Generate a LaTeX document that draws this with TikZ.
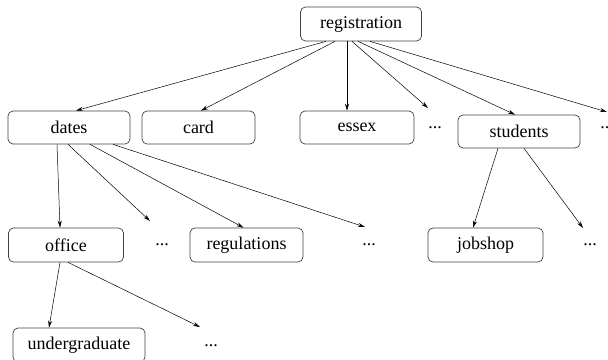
\documentclass[tikz,border=0pt]{standalone}
\usepackage{fontspec}
\setmainfont{Liberation Serif}
\usetikzlibrary{arrows.meta,positioning}

\tikzset{
  term/.style={draw=black!75,line width=0.7pt,rounded corners=5pt,minimum height=34pt,inner sep=0pt},
  more/.style={inner sep=0pt},
  link/.style={-{Stealth[length=7pt,width=4pt]},line width=0.5pt}
}

\begin{document}
\begin{tikzpicture}[x=1pt,y=-1pt,font=\fontsize{18}{20}\selectfont]
\useasboundingbox (0,0) rectangle (608,359);

% top of the tree
\node[term,minimum width=121pt] (registration) at (361,24) {registration};

% second level
\node[term,minimum width=122pt,minimum height=33pt] (dates) at (69,127.5) {dates};
\node[term,minimum width=113pt,minimum height=33pt] (card) at (198.5,127.5) {card};
\node[term,minimum width=114pt,minimum height=33pt] (essex) at (357,127.5) {essex};
\node[more] (moreA) at (435,128) {...};
\node[term,minimum width=122pt,minimum height=33pt] (students) at (519,131.5) {students};
\node[more] (moreB) at (607,128) {...};

% third level
\node[term,minimum width=115pt] (office) at (66,245) {office};
\node[more] (moreC) at (162,245) {...};
\node[term,minimum width=113pt] (regulations) at (246.5,245) {regulations};
\node[more] (moreD) at (369,245) {...};
\node[term,minimum width=115pt] (jobshop) at (485.5,245) {jobshop};
\node[more] (moreE) at (590,245) {...};

% fourth level
\node[term,minimum width=132pt] (undergraduate) at (79,345) {undergraduate};
\node[more] (moreF) at (211,346) {...};

% links from registration
\draw[link] ([xshift=-35pt]registration.south) -- ([xshift=7pt]dates.north);
\draw[link] ([xshift=-26pt]registration.south) -- ([xshift=2.5pt]card.north);
\draw[link] ([xshift=-14pt]registration.south) -- ([xshift=-10pt]essex.north);
\draw[link] ([xshift=-9pt]registration.south) -- ([shift={(-7,-20)}]moreA.center);
\draw[link] ([xshift=-3pt]registration.south) -- ([xshift=-4pt]students.north);
\draw[link] ([xshift=9pt]registration.south) -- ([shift={(0,-16)}]moreB.center);

% links from dates
\draw[link] ([xshift=-12pt]dates.south) -- ([xshift=-6pt]office.north);
\draw[link] ([xshift=-1pt]dates.south) -- ([shift={(-12,-24)}]moreC.center);
\draw[link] ([xshift=21pt]dates.south) -- ([xshift=-3pt]regulations.north);
\draw[link] ([xshift=44pt]dates.south) -- ([shift={(-4,-18)}]moreD.center);

% links from students
\draw[link] ([xshift=-21pt]students.south) -- ([xshift=-12.5pt]jobshop.north);
\draw[link] ([xshift=5pt]students.south) -- ([shift={(-7,-17)}]moreE.center);

% links from office
\draw[link] ([xshift=-6pt]office.south) -- ([xshift=-30pt]undergraduate.north);
\draw[link] ([xshift=2pt]office.south) -- ([shift={(-11,-19)}]moreF.center);
\end{tikzpicture}
\end{document}
